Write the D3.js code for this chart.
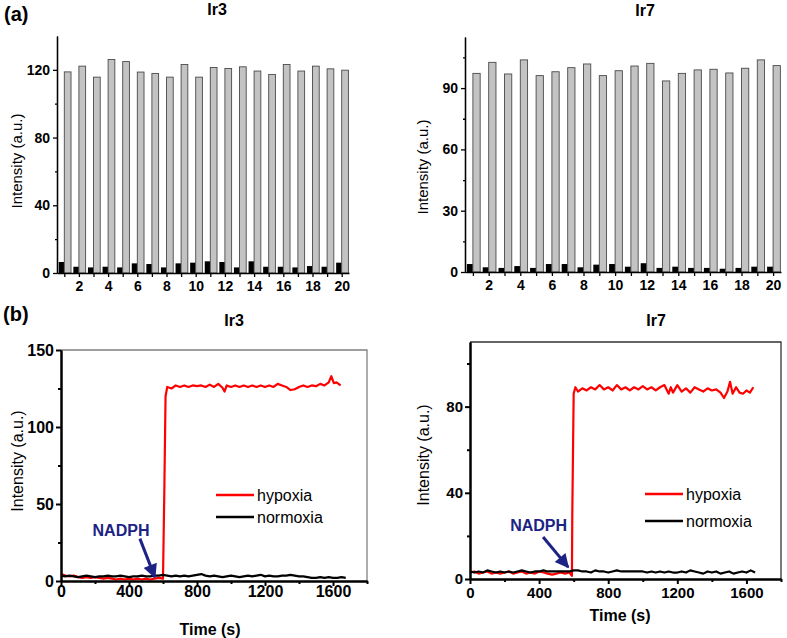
<!DOCTYPE html>
<html>
<head>
<meta charset="utf-8">
<script src="https://cdn.jsdelivr.net/npm/d3@7"></script>
<style>
  body { margin: 0; background: #fff; }
  svg { display: block; font-family: "Liberation Sans", Arial, sans-serif; }
</style>
</head>
<body>
<div id="chart"></div>
<script>
// ---- data ----
const categories = [1, 2, 3, 4, 5, 6, 7, 8, 9, 10, 11, 12, 13, 14, 15, 16, 17, 18, 19, 20];

const ir3Gray = [118.8, 122.2, 115.7, 126.1, 124.9, 118.7, 117.9, 115.7, 123.2, 115.7,
                 121.4, 120.8, 121.8, 119.3, 117.3, 123.2, 119.3, 122.2, 120.6, 119.8];
const ir3Black = [6.5, 3.7, 3.3, 3.7, 3.3, 5.7, 5.3, 3.3, 5.7, 6.1,
                  6.9, 6.5, 3.3, 6.9, 3.7, 3.7, 3.3, 4.1, 3.7, 6.1];

const ir7Gray = [97.2, 102.6, 96.9, 103.8, 96.1, 98.0, 100.0, 101.8, 96.1, 98.5,
                 100.8, 102.1, 93.5, 97.2, 98.9, 99.2, 97.4, 99.7, 103.8, 101.0];
const ir7Black = [3.9, 2.3, 2.0, 2.9, 2.0, 3.9, 3.9, 2.3, 3.6, 3.9,
                  2.6, 4.3, 2.0, 2.6, 2.0, 2.0, 1.6, 2.0, 2.6, 2.6];

const ir3BarTicks = [0, 40, 80, 120];
const ir3BarMinor = [20, 60, 100];
const ir7BarTicks = [0, 30, 60, 90];
const ir7BarMinor = [15, 45, 75, 105];

// kinetics: [time (s), intensity]
const ir3Hypoxia = [[0,4.5],[25,3.5],[50,3],[75,3.5],[100,2.5],[125,2],[150,2.5],[175,2],[200,2.5],[225,2],
  [250,1.5],[275,2],[300,1.5],[325,1],[350,1.5],[375,1],[400,1.5],[425,1],[450,1.5],[475,1],[500,1.5],
  [525,1],[550,1.5],[575,2],[600,1.5],[608,60],[615,120],[625,126],[650,125],[675,127],[700,126],[725,127],
  [750,126],[775,127],[800,126.5],[825,127],[850,126],[875,127.5],[900,126],[925,128],[950,125.5],[962,123],
  [975,127],[1000,126],[1025,127],[1050,126],[1075,127],[1100,126],[1125,127],[1150,126],[1175,127],
  [1200,126],[1225,127],[1250,126],[1275,128],[1300,127],[1325,126],[1350,124],[1375,124.5],[1400,126],
  [1425,127],[1450,126],[1475,127],[1500,126.5],[1525,128],[1550,127],[1575,129],[1590,133],[1605,128.5],
  [1620,129],[1645,127]];
const ir3Normoxia = [[0,3.5],[25,3],[50,3.5],[75,3],[100,2.5],[125,3],[150,3.5],[175,3],[200,2.5],[225,3],
  [250,3],[275,3.5],[300,3],[325,3],[350,3.5],[375,3],[400,2.5],[425,3],[450,3],[475,3.5],[500,3],[525,3],
  [550,3.5],[575,3.5],[600,4],[625,3.5],[650,3],[675,3.5],[700,3],[725,3.5],[750,3],[775,3.5],[800,4],
  [825,4.5],[850,3.5],[875,3],[900,3.5],[925,3],[950,2.5],[975,3],[1000,3.5],[1025,3],[1050,2.5],[1075,3],
  [1100,3.5],[1125,3],[1150,3.5],[1175,4],[1200,3],[1225,3.5],[1250,3],[1275,3],[1300,3.5],[1325,3.5],
  [1350,4],[1375,3.5],[1400,3],[1425,3],[1450,2.5],[1475,2],[1500,2],[1525,2.5],[1550,2],[1575,2.5],
  [1600,2],[1625,2],[1650,2.5],[1675,2]];

const ir7Hypoxia = [[0,3],[25,3.5],[50,2.5],[75,3],[100,3.5],[125,2.5],[150,3],[175,2.5],[200,3],[225,3.5],
  [250,2.5],[275,3],[300,3.5],[325,2.5],[350,3],[375,2.5],[400,3.5],[425,3],[450,2.5],[475,2],[500,2.5],
  [525,3],[550,2.5],[575,3],[590,1.5],[592,30],[596,58],[600,86],[610,89],[625,87],[650,88.5],[675,87.5],
  [700,89],[725,88],[750,90],[775,88],[800,89],[825,87.5],[850,90],[875,88],[900,89],[925,87.5],[950,89],
  [975,88],[1000,89.5],[1025,88],[1050,89],[1075,87.5],[1100,89],[1125,90],[1150,86],[1162,89],[1175,86.5],
  [1200,90],[1225,87],[1250,88.5],[1275,86.5],[1300,89],[1325,88],[1350,87],[1375,88.5],[1400,87.5],
  [1425,88],[1450,86.5],[1470,84],[1490,87],[1505,91.5],[1520,86],[1540,89],[1560,86.5],[1580,86],
  [1600,87.5],[1620,86.5],[1640,89]];
const ir7Normoxia = [[0,3.5],[25,3],[50,3.5],[75,3],[100,4],[125,3.5],[150,3],[175,3.5],[200,3],[225,3.5],
  [250,3],[275,3.5],[300,4],[325,3.5],[350,3],[375,3.5],[400,3.5],[425,4],[450,3.5],[475,3.5],[500,3.5],
  [525,3.5],[550,3.5],[575,3.5],[600,4],[625,4],[650,3.5],[675,3.5],[700,3],[725,4],[750,3.5],[775,3.5],
  [800,3],[825,3.5],[850,4],[875,3.5],[900,3.5],[925,3.5],[950,3.5],[975,3.5],[1000,3.5],[1025,3],
  [1050,3.5],[1075,3],[1100,3.5],[1125,3],[1150,3.5],[1175,3],[1200,3],[1225,3.5],[1250,3],[1275,4],
  [1300,3.5],[1325,3],[1350,2.5],[1375,3.5],[1400,3],[1425,3.5],[1450,2.5],[1475,3],[1500,3.5],[1525,2.5],
  [1550,3],[1575,3.5],[1600,3],[1625,4],[1650,3]];

const timeTicks = [0, 400, 800, 1200, 1600];
const timeMinor = [200, 600, 1000, 1400, 1800];
const ir3KinTicks = [0, 50, 100, 150];
const ir3KinMinor = [25, 75, 125];
const ir7KinTicks = [0, 40, 80];
const ir7KinMinor = [20, 60, 100];

const seriesNames = ["hypoxia", "normoxia"];
const seriesColors = ["#ff0000", "#000000"];

// ---- drawing ----
const width = 787, height = 638;
const svg = d3.select("#chart").append("svg")
  .attr("width", width)
  .attr("height", height);

const navy = "#1c2384";
svg.append("defs").append("marker")
  .attr("id", "arrowhead")
  .attr("viewBox", "0 0 10 10")
  .attr("refX", 9)
  .attr("refY", 5)
  .attr("orient", "auto")
  .attr("markerUnits", "userSpaceOnUse")
  .attr("markerWidth", 16)
  .attr("markerHeight", 14)
  .append("path")
  .attr("d", "M0,0L10,5L0,10z")
  .attr("fill", navy);

function styleAxis(sel, lw, fs, bold) {
  sel.select(".domain").attr("stroke", "#000").attr("stroke-width", lw);
  sel.selectAll(".tick line").attr("stroke", "#000").attr("stroke-width", lw);
  sel.selectAll("text")
    .attr("fill", "#000")
    .style("font-size", fs + "px")
    .style("font-weight", bold ? "bold" : "normal");
}

function barPanel(o) {
  const x = d3.scaleLinear().domain([0.5, 20.5]).range(o.xr);
  const y = d3.scaleLinear().domain([0, o.ymax]).range(o.yr);
  const g = svg.append("g");

  g.selectAll(".blk")
    .data(categories)
    .join("rect")
    .attr("class", "blk")
    .attr("x", d => x(d - 0.38))
    .attr("width", d => x(d) - x(d - 0.38))
    .attr("y", (d, i) => y(o.black[i]))
    .attr("height", (d, i) => y(0) - y(o.black[i]))
    .attr("fill", "#000");

  g.selectAll(".gry")
    .data(categories)
    .join("rect")
    .attr("class", "gry")
    .attr("x", d => x(d))
    .attr("width", d => x(d + 0.46) - x(d))
    .attr("y", (d, i) => y(o.gray[i]))
    .attr("height", (d, i) => y(0) - y(o.gray[i]))
    .attr("fill", "#c3c3c3")
    .attr("stroke", "#4a4a4a")
    .attr("stroke-width", 0.9);

  g.append("g")
    .attr("transform", `translate(${o.xr[0]},0)`)
    .call(d3.axisLeft(y).tickValues(o.minor).tickSize(2).tickSizeOuter(0).tickFormat(""))
    .call(styleAxis, 1.3, 13, true);
  g.append("g")
    .attr("transform", `translate(${o.xr[0]},0)`)
    .call(d3.axisLeft(y).tickValues(o.ticks).tickSize(4).tickSizeOuter(0).tickPadding(3))
    .call(styleAxis, 1.3, 14, true);

  g.append("g")
    .attr("transform", `translate(0,${o.yr[0]})`)
    .call(d3.axisBottom(x).tickValues(categories).tickSize(4).tickSizeOuter(0).tickPadding(4)
      .tickFormat(d => d % 2 === 0 ? d : ""))
    .call(styleAxis, 1.3, 14, true);

  g.append("text")
    .attr("x", o.title[0]).attr("y", o.title[1])
    .attr("text-anchor", "middle")
    .style("font-size", "16px").style("font-weight", "bold")
    .text(o.name);

  g.append("text")
    .attr("transform", `translate(${o.ylab[0]},${o.ylab[1]}) rotate(-90)`)
    .attr("text-anchor", "middle")
    .attr("dy", "0.35em")
    .style("font-size", "15px")
    .text("Intensity (a.u.)");
}

function kinPanel(o) {
  const x = d3.scaleLinear().domain([0, 1800]).range(o.xr);
  const y = d3.scaleLinear().domain([0, o.ymax]).range(o.yr);
  const g = svg.append("g");

  // frame (top / right)
  g.append("path")
    .attr("d", `M${x(0)},${y(o.ymax)}H${x(1800)}V${y(0)}`)
    .attr("fill", "none")
    .attr("stroke", o.frame)
    .attr("stroke-width", 1.3);

  const line = d3.line().x(d => x(d[0])).y(d => y(d[1]));
  [o.hyp, o.norm].forEach((s, i) => {
    g.append("path")
      .datum(s)
      .attr("d", line)
      .attr("fill", "none")
      .attr("stroke", seriesColors[i])
      .attr("stroke-width", 2.2)
      .attr("stroke-linejoin", "round");
  });

  g.append("g")
    .attr("transform", `translate(${o.xr[0]},0)`)
    .call(d3.axisLeft(y).tickValues(o.minor).tickSize(3).tickSizeOuter(0).tickFormat(""))
    .call(styleAxis, 2, 15, true);
  g.append("g")
    .attr("transform", `translate(${o.xr[0]},0)`)
    .call(d3.axisLeft(y).tickValues(o.ticks).tickSize(5).tickSizeOuter(0).tickPadding(2))
    .call(styleAxis, 2, o.fs, true);

  g.append("g")
    .attr("transform", `translate(0,${o.yr[0]})`)
    .call(d3.axisBottom(x).tickValues(timeMinor).tickSize(3).tickSizeOuter(0).tickFormat(""))
    .call(styleAxis, 2, 15, true);
  g.append("g")
    .attr("transform", `translate(0,${o.yr[0]})`)
    .call(d3.axisBottom(x).tickValues(timeTicks).tickSize(5).tickSizeOuter(0).tickPadding(o.xpad)
      .tickFormat(d3.format("d")))
    .call(styleAxis, 2, o.fs, true);

  // legend
  seriesNames.forEach((name, i) => {
    const ly = o.leg[1] + i * o.leg[2];
    g.append("line")
      .attr("x1", o.leg[0]).attr("x2", o.leg[0] + 38)
      .attr("y1", ly).attr("y2", ly)
      .attr("stroke", seriesColors[i])
      .attr("stroke-width", 2.6);
    g.append("text")
      .attr("x", o.leg[0] + 41).attr("y", ly)
      .attr("dy", "0.35em")
      .style("font-size", "16px")
      .text(name);
  });

  // NADPH annotation
  g.append("text")
    .attr("x", x(o.note[0])).attr("y", y(o.note[1]))
    .attr("text-anchor", "middle")
    .attr("fill", navy)
    .style("font-size", "16px").style("font-weight", "bold")
    .text("NADPH");
  g.append("line")
    .attr("x1", x(o.arrow[0])).attr("y1", y(o.arrow[1]))
    .attr("x2", x(o.arrow[2])).attr("y2", y(o.arrow[3]))
    .attr("stroke", navy)
    .attr("stroke-width", 3)
    .attr("marker-end", "url(#arrowhead)");

  g.append("text")
    .attr("x", o.title[0]).attr("y", o.title[1])
    .attr("text-anchor", "middle")
    .style("font-size", "16px").style("font-weight", "bold")
    .text(o.name);

  g.append("text")
    .attr("transform", `translate(${o.ylab[0]},${o.ylab[1]}) rotate(-90)`)
    .attr("text-anchor", "middle")
    .attr("dy", "0.35em")
    .style("font-size", "16px")
    .text("Intensity (a.u.)");

  g.append("text")
    .attr("x", o.xlab[0]).attr("y", o.xlab[1])
    .attr("text-anchor", "middle")
    .style("font-size", "16px").style("font-weight", "bold")
    .text("Time (s)");
}

barPanel({
  name: "Ir3", gray: ir3Gray, black: ir3Black,
  xr: [57, 349], yr: [273, 36], ymax: 140,
  ticks: ir3BarTicks, minor: ir3BarMinor,
  title: [217, 15], ylab: [17, 161]
});

barPanel({
  name: "Ir7", gray: ir7Gray, black: ir7Black,
  xr: [465, 781], yr: [272, 37], ymax: 115,
  ticks: ir7BarTicks, minor: ir7BarMinor,
  title: [645, 16], ylab: [423, 167]
});

kinPanel({
  name: "Ir3", hyp: ir3Hypoxia, norm: ir3Normoxia,
  xr: [61, 367], yr: [581, 350], ymax: 150,
  ticks: ir3KinTicks, minor: ir3KinMinor, frame: "#808080",
  fs: 16, xpad: 0,
  leg: [216, 495, 22], note: [353, 29.5], arrow: [464, 27.5, 552, 2.5],
  title: [234, 326], ylab: [17, 461], xlab: [210, 635]
});

kinPanel({
  name: "Ir7", hyp: ir7Hypoxia, norm: ir7Normoxia,
  xr: [470, 781], yr: [579, 342], ymax: 110,
  ticks: ir7KinTicks, minor: ir7KinMinor, frame: "#333",
  fs: 15, xpad: 3,
  leg: [645, 494, 27], note: [397, 22.5], arrow: [423, 19.5, 568, 5.5],
  title: [656, 326], ylab: [423, 455], xlab: [620, 621]
});

// panel letters
svg.append("text").attr("x", 4).attr("y", 21)
  .style("font-size", "20px").style("font-weight", "bold").text("(a)");
svg.append("text").attr("x", 3).attr("y", 321)
  .style("font-size", "20px").style("font-weight", "bold").text("(b)");
</script>
</body>
</html>
